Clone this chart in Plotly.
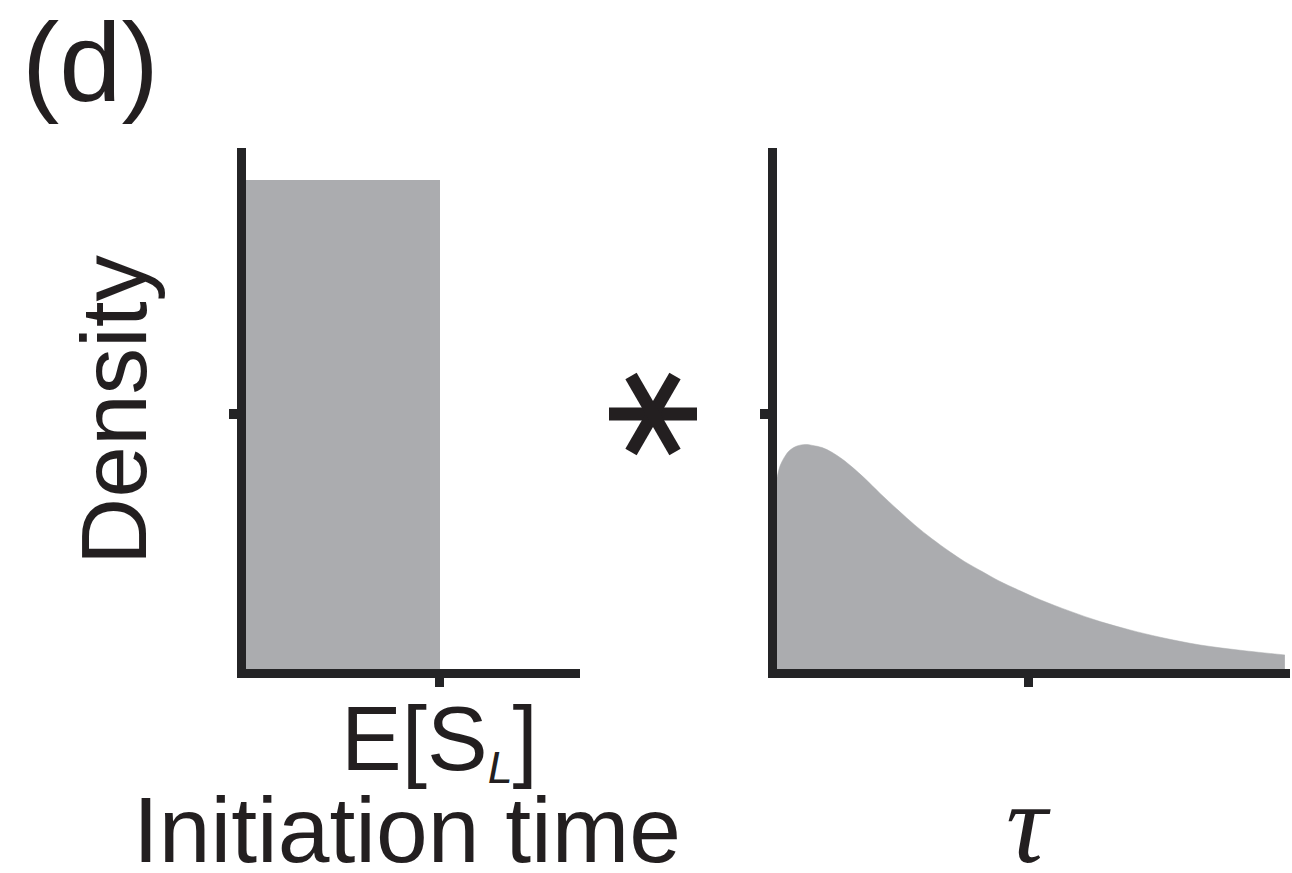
import plotly.graph_objects as go

W, H = 1292, 873

# ---- data ----
# Left panel: uniform density of initiation times on [0, E[S_L]]
es_l = 0.58
uniform_height = 0.939

# Right panel: delay density over tau
tau_x = [0.000, 0.006, 0.016, 0.025, 0.039, 0.055, 0.070, 0.088, 0.107,
         0.127, 0.146, 0.172, 0.201, 0.236, 0.269, 0.302, 0.337, 0.366,
         0.400, 0.431, 0.474, 0.513, 0.571, 0.630, 0.688, 0.747, 0.825,
         0.903, 0.990]
tau_y = [0.367, 0.390, 0.409, 0.420, 0.428, 0.431, 0.429, 0.425, 0.416,
         0.403, 0.388, 0.365, 0.337, 0.305, 0.276, 0.250, 0.225, 0.206,
         0.187, 0.170, 0.150, 0.133, 0.111, 0.091, 0.075, 0.061, 0.046,
         0.036, 0.027]

# reference ticks (unlabelled)
y_tick = 0.49
tau_tick = 0.49

# ---- styling ----
FILL = "#abacaf"
AXIS = "#242426"
INK = "#231f20"
SANS = "Liberation Sans, Arial, sans-serif"
SERIF = "Liberation Serif, Times New Roman, serif"


def px_x(x):
    return x / W


def px_y(y):
    return 1 - y / H


fig = go.Figure()

fig.add_trace(go.Bar(
    x=[es_l / 2], y=[uniform_height], width=[es_l],
    marker=dict(color=FILL, line=dict(width=0)),
    xaxis="x", yaxis="y", showlegend=False, hoverinfo="skip",
))

fig.add_trace(go.Scatter(
    x=tau_x, y=tau_y, mode="lines",
    line=dict(shape="spline", smoothing=1.0, width=0.5, color=FILL),
    fill="tozeroy", fillcolor=FILL,
    xaxis="x2", yaxis="y2", showlegend=False, hoverinfo="skip",
))

axis_common = dict(
    showline=True, linewidth=9, linecolor=AXIS,
    showgrid=False, zeroline=False,
    ticks="outside", tickcolor=AXIS, showticklabels=False,
    fixedrange=True,
)

y_dom = [px_y(669), px_y(148)]

fig.update_layout(
    width=W, height=H,
    margin=dict(l=0, r=0, t=0, b=0),
    paper_bgcolor="white", plot_bgcolor="white",
    bargap=0,
    xaxis=dict(domain=[px_x(246), px_x(580)], range=[0, 1],
               tickvals=[es_l], ticklen=9, tickwidth=9,
               anchor="y", **axis_common),
    yaxis=dict(domain=y_dom, range=[0, 1],
               tickvals=[y_tick], ticklen=8, tickwidth=10,
               anchor="x", **axis_common),
    xaxis2=dict(domain=[px_x(777), px_x(1290)], range=[0, 1],
                tickvals=[tau_tick], ticklen=9, tickwidth=9,
                anchor="y2", **axis_common),
    yaxis2=dict(domain=y_dom, range=[0, 1],
                tickvals=[y_tick], ticklen=8, tickwidth=10,
                anchor="x2", **axis_common),
)

annotations = [
    dict(text="(d)", x=px_x(90), y=px_y(63), xref="paper", yref="paper",
         font=dict(family=SANS, size=112, color=INK)),
    dict(text="Density", x=px_x(114), y=px_y(410), xref="paper", yref="paper",
         textangle=-90, font=dict(family=SANS, size=93, color=INK)),
    dict(text="E[S<span style='font-size:64px'><sub><i>L</i></sub></span>]",
         x=es_l, y=px_y(740), xref="x", yref="paper",
         font=dict(family=SANS, size=91, color=INK)),
    dict(text="Initiation time", x=px_x(407), y=px_y(830),
         xref="paper", yref="paper",
         font=dict(family=SANS, size=93, color=INK)),
    dict(text="<i>τ</i>", x=tau_tick, y=px_y(823), xref="x2", yref="paper",
         font=dict(family=SERIF, size=115, color=INK)),
]
for a in annotations:
    a.update(showarrow=False, xanchor="center", yanchor="middle")
fig.update_layout(annotations=annotations)

# convolution operator: six-armed asterisk between the panels
arm = 44
cx, cy = px_x(653), px_y(414)
for dx, dy in [(arm, 0), (arm * 0.5, arm * 0.866), (-arm * 0.5, arm * 0.866)]:
    fig.add_shape(
        type="line", xref="paper", yref="paper",
        xsizemode="pixel", ysizemode="pixel",
        xanchor=cx, yanchor=cy,
        x0=-dx, x1=dx, y0=-dy, y1=dy,
        line=dict(color=INK, width=13),
    )

fig.write_html("out.html")
